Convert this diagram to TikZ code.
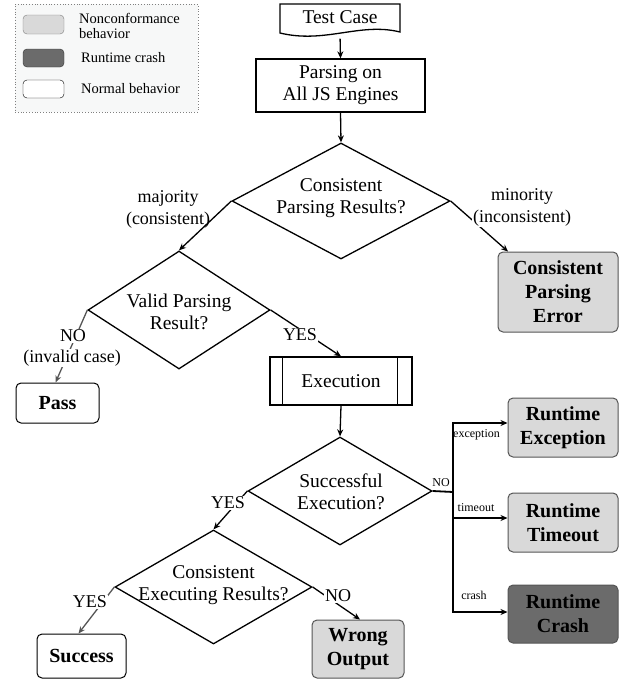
\documentclass[tikz,border=0pt]{standalone}
\usepackage{fontspec}
\setmainfont{Liberation Serif}
\usetikzlibrary{shapes.geometric,arrows.meta}
\definecolor{ncgray}{HTML}{D9D9D9}
\definecolor{crgray}{HTML}{6B6B6B}
\definecolor{legbg}{HTML}{F7F8F8}
\definecolor{bordgray}{HTML}{555555}
\tikzset{
  every picture/.style={x=1pt,y=-1pt},
  main/.style={font=\fontsize{19.5}{22}\selectfont, align=center, inner sep=0pt},
  elabel/.style={font=\fontsize{18}{22}\selectfont, align=center, inner sep=1pt, fill=white},
  slabel/.style={font=\fontsize{12}{14}\selectfont, inner sep=1pt},
  decision/.style={draw, diamond, line width=1.3pt, inner sep=0pt, minimum width=#1},
  procbox/.style={draw, rectangle, line width=1.3pt, inner sep=0pt},
  outbox/.style={draw=bordgray, rounded corners=5pt, line width=1pt, align=center,
     font=\fontsize{20}{24}\selectfont\bfseries, inner sep=0pt},
  conn/.style={line width=1.3pt, -{Stealth[length=7pt,width=6pt]}},
  gconn/.style={line width=1.3pt, draw=bordgray, -{Stealth[length=7pt,width=6pt]}},
}
\begin{document}
\begin{tikzpicture}
\useasboundingbox (0,0) rectangle (624,680);
% legend
\node[draw=gray, dotted, line width=0.8pt, fill=legbg, minimum width=183pt, minimum height=108pt, inner sep=0pt] (legend) at (106.5,58) {};
\node[draw=gray, fill=ncgray, rounded corners=4pt, minimum width=41pt, minimum height=19pt, inner sep=0pt] (lg1) at (43.5,24.5) {};
\node[draw=black!80, fill=crgray, rounded corners=4pt, minimum width=41pt, minimum height=18pt, inner sep=0pt] (lg2) at (43.5,58) {};
\node[draw=black, fill=white, rounded corners=4pt, minimum width=41pt, minimum height=18pt, inner sep=0pt] (lg3) at (43.5,89) {};
\node[anchor=west, align=left, inner sep=0pt, font=\fontsize{14.5}{14.5}\selectfont] (lt1) at (79,26) {Nonconformance\\behavior};
\node[anchor=west, inner sep=0pt, font=\fontsize{14.5}{14.5}\selectfont] (lt2) at (81,58) {Runtime crash};
\node[anchor=west, inner sep=0pt, font=\fontsize{14.5}{14.5}\selectfont] (lt3) at (81,89) {Normal behavior};

% test case (document shape)
\draw[line width=1.3pt, fill=white] (280,4) -- (400,4) -- (400,32) .. controls (360,22) and (325,44) .. (280,33) -- cycle;
\node[main, minimum width=120pt, minimum height=31pt] (tc) at (340,19) {};
\node[main] (tct) at (340,17) {Test Case};

% parsing
\node[procbox, main, minimum width=169pt, minimum height=53pt] (parse) at (340.5,85.5) {Parsing on\\All JS Engines};

% decision 1
\node[decision=218pt, minimum height=116pt] (d1) at (341,201) {};
\node[main] (d1t) at (341,198) {Consistent\\Parsing Results?};

% consistent parsing error
\node[outbox, fill=ncgray, minimum width=120pt, minimum height=80pt] (cpe) at (558,292) {Consistent\\Parsing\\Error};

% decision 2
\node[decision=182pt, minimum height=118pt] (d2) at (179,310) {};
\node[main] (d2t) at (179,312) {Valid Parsing\\Result?};

% pass
\node[outbox, draw=black, fill=white, minimum width=83pt, minimum height=40pt] (pass) at (57.5,403) {Pass};

% execution
\node[procbox, main, minimum width=142pt, minimum height=48pt] (exec) at (341,381) {Execution};
\draw[line width=1.3pt] ([xshift=13pt]exec.north west) -- ([xshift=13pt]exec.south west);
\draw[line width=1.3pt] ([xshift=-15pt]exec.north east) -- ([xshift=-15pt]exec.south east);

% decision 3
\node[decision=184pt, minimum height=108pt] (d3) at (340,491) {};
\node[main] (d3t) at (341,492) {Successful\\Execution?};

% runtime boxes
\node[outbox, fill=ncgray, minimum width=110pt, minimum height=59pt] (rex) at (563,427.5) {Runtime\\Exception};
\node[outbox, fill=ncgray, minimum width=110pt, minimum height=59pt] (rto) at (563,522.5) {Runtime\\Timeout};
\node[outbox, fill=crgray, minimum width=110pt, minimum height=58pt] (rcr) at (563,614) {Runtime\\Crash};

% decision 4
\node[decision=197pt, minimum height=114pt] (d4) at (213.5,587) {};
\node[main] (d4t) at (213.5,585) {Consistent\\Executing Results?};

% success / wrong output
\node[outbox, draw=black, fill=white, minimum width=89pt, minimum height=44pt] (succ) at (81.5,656) {Success};
\node[outbox, fill=ncgray, minimum width=92pt, minimum height=58pt] (wo) at (358,649) {Wrong\\Output};

% connectors
\draw[conn, shorten <=4pt] (tc.south) -- (parse.north);
\draw[conn] (parse.south) -- (d1.north);
\draw[conn] (d1.west) -- (d2.north);
\node[elabel, fill=none] (lmaj) at (168,209) {majority\\(consistent)};
\draw[conn] (d1.east) -- ([xshift=-50pt]cpe.north);
\node[elabel] (lmin) at (522,207) {minority\\(inconsistent)};
\draw[gconn] (d2.west) -- ([xshift=-2pt]pass.north);
\node[elabel] (lno1) at (73,336) {NO};
\node[elabel] (lno1b) at (72,358) {(invalid case)};
\draw[conn] (d2.east) -- (exec.north);
\node[elabel] (lyes1) at (300,335) {YES};
\draw[conn] (exec.south) -- (d3.north);
\draw[conn] (d3.west) -- (d4.north);
\node[elabel] (lyes2) at (228,503) {YES};
\draw[gconn] (d4.west) -- ([xshift=-3pt]succ.north);
\node[elabel] (lyes3) at (90,602) {YES};
\draw[conn] (d4.east) -- ([xshift=2pt]wo.north);
\node[elabel] (lno3) at (338,596) {NO};

\coordinate (br) at (453,492);
\draw[line width=1.8pt] (d3.east) -- (br);
\draw[conn] (br) |- ([yshift=4.5pt]rex.west);
\draw[conn] (br) |- ([yshift=4.5pt]rto.west);
\draw[conn] (br) |- ([yshift=2pt]rcr.west);
\node[slabel] (lno2) at (441,483) {NO};
\node[slabel] (lexc) at (476.5,435) {exception};
\node[slabel] (ltim) at (476,508) {timeout};
\node[slabel] (lcr) at (474,595) {crash};
\end{tikzpicture}
\end{document}
